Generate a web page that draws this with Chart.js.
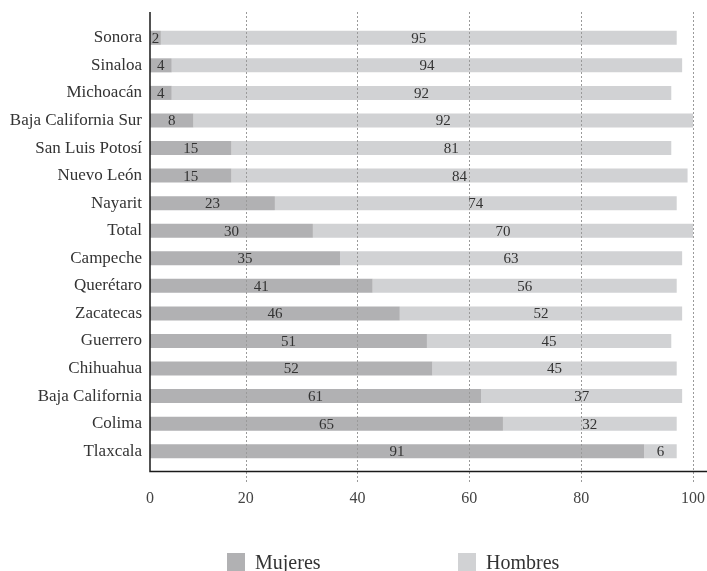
<!DOCTYPE html>
<html>
<head>
<meta charset="utf-8">
<script src="https://cdn.jsdelivr.net/npm/chart.js@4"></script>
<style>
  body { margin: 0; background: #fff; }
  #wrap { position: relative; width: 707px; height: 571px; }
  #legend { position: absolute; top: 551px; left: 0; width: 707px; font: 20px "Liberation Serif", serif; color: #333; }
  .item { position: absolute; top: 0; display: flex; align-items: center; line-height: 22px; }
  .swatch { width: 18px; height: 18px; margin-right: 10px; }
</style>
</head>
<body>
<div id="wrap">
  <canvas id="chart" width="707" height="571"></canvas>
  <div id="legend"></div>
</div>
<script>
const categories = ['Sonora', 'Sinaloa', 'Michoacán', 'Baja California Sur', 'San Luis Potosí', 'Nuevo León',
    'Nayarit', 'Total', 'Campeche', 'Querétaro', 'Zacatecas', 'Guerrero', 'Chihuahua', 'Baja California',
    'Colima', 'Tlaxcala'];
const mujeres = [2, 4, 4, 8, 15, 15, 23, 30, 35, 41, 46, 51, 52, 61, 65, 91];
const hombres = [95, 94, 92, 92, 81, 84, 74, 70, 63, 56, 52, 45, 45, 37, 32, 6];
const xTicks = [0, 20, 40, 60, 80, 100];
const seriesNames = ['Mujeres', 'Hombres'];
const seriesColors = ['#b1b1b3', '#d1d2d4'];

const serif = '"Liberation Serif", serif';
// the printed grid starts a little past zero, so the tick axis gets its own start
const gridStart = 2.9;

// axis lines, dashed grid and the numbers inside the bars
const framePlugin = {
    id: 'frame',
    afterDatasetsDraw(chart) {
        const { ctx, chartArea: a } = chart;
        const grid = chart.scales.xGrid;
        const top = a.top - 12;
        const axisY = a.bottom + 6.5;
        ctx.save();
        ctx.strokeStyle = '#9a9a9a';
        ctx.lineWidth = 1;
        ctx.setLineDash([2, 2]);
        xTicks.slice(1).forEach(v => {
            const px = Math.round(grid.getPixelForValue(v)) + 0.5;
            ctx.beginPath();
            ctx.moveTo(px, top);
            ctx.lineTo(px, axisY + 12);
            ctx.stroke();
        });
        ctx.setLineDash([]);
        ctx.strokeStyle = '#1a1a1a';
        ctx.lineWidth = 1.5;
        ctx.beginPath();
        ctx.moveTo(a.left, top);
        ctx.lineTo(a.left, axisY);
        ctx.lineTo(chart.width, axisY);
        ctx.stroke();

        ctx.font = '15px ' + serif;
        ctx.fillStyle = '#333';
        ctx.textAlign = 'center';
        ctx.textBaseline = 'middle';
        chart.data.datasets.forEach((ds, i) => {
            chart.getDatasetMeta(i).data.forEach((bar, j) => {
                const { x: end, base, y } = bar.getProps(['x', 'base', 'y'], true);
                ctx.fillText(ds.data[j], (end + base) / 2, y + 1);
            });
        });
        ctx.restore();
    }
};

new Chart(document.getElementById('chart'), {
    type: 'bar',
    data: {
        labels: categories,
        datasets: [
            { label: seriesNames[0], data: mujeres, backgroundColor: seriesColors[0] },
            { label: seriesNames[1], data: hombres, backgroundColor: seriesColors[1] }
        ]
    },
    options: {
        indexAxis: 'y',
        responsive: false,
        animation: false,
        devicePixelRatio: 1,
        barPercentage: 0.51,
        categoryPercentage: 1,
        layout: { padding: { top: 24, right: 14, bottom: 66, left: 0 } },
        plugins: { legend: { display: false }, tooltip: { enabled: false } },
        scales: {
            x: {
                stacked: true,
                min: 0,
                max: 100,
                display: false
            },
            xGrid: {
                type: 'linear',
                axis: 'x',
                position: 'bottom',
                min: gridStart,
                max: 100,
                afterBuildTicks: scale => {
                    scale.ticks = xTicks.map(v => ({ value: Math.max(v, gridStart) }));
                },
                afterFit: scale => {
                    scale.height = 40;
                    scale.paddingLeft = 0;
                    scale.paddingRight = 0;
                },
                grid: { display: false, drawTicks: false },
                border: { display: false },
                ticks: {
                    padding: 24,
                    color: '#444',
                    font: { family: serif, size: 16 },
                    callback: (v, i) => xTicks[i]
                }
            },
            y: {
                stacked: true,
                afterFit: scale => { scale.width = 150; },
                grid: { display: false, drawTicks: false },
                border: { display: false },
                ticks: { padding: 8, color: '#333', font: { family: serif, size: 17 } }
            }
        }
    },
    plugins: [framePlugin]
});

// legend under the chart
const legend = document.getElementById('legend');
[227, 458].forEach((left, i) => {
    const item = document.createElement('div');
    item.className = 'item';
    item.style.left = left + 'px';
    item.innerHTML = '<span class="swatch" style="background:' + seriesColors[i] + '"></span>' + seriesNames[i];
    legend.appendChild(item);
});
</script>
</body>
</html>
